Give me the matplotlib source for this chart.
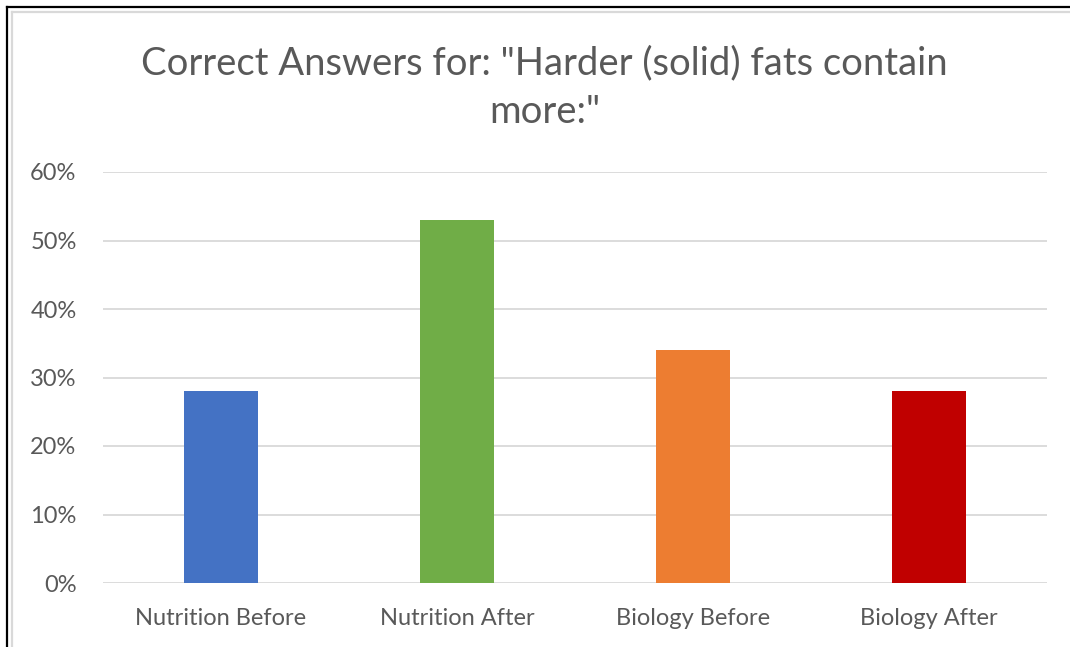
import matplotlib
matplotlib.use('Agg')
import matplotlib.pyplot as plt
from matplotlib.lines import Line2D
from matplotlib.ticker import FuncFormatter

plt.rcParams['font.family'] = ['Lato', 'DejaVu Sans']

# Data
categories = ['Nutrition Before', 'Nutrition After', 'Biology Before', 'Biology After']
values = [0.28, 0.53, 0.34, 0.28]
colors = ['#4472C4', '#70AD47', '#ED7D31', '#C00000']
title_lines = ['Correct Answers for: "Harder (solid) fats contain', 'more:"']

TEXT = '#595959'
GRID = '#D9D9D9'

fig = plt.figure(figsize=(10.7, 6.47), dpi=100)
fig.patch.set_facecolor('white')

# outer frame (black) and inner chart border (light gray)
fig.add_artist(Line2D([6.5 / 1070, 6.5 / 1070], [0, 1 - 6.5 / 647], color='black', lw=1.6,
                      transform=fig.transFigure))
fig.add_artist(Line2D([6.5 / 1070, 1], [1 - 6.5 / 647, 1 - 6.5 / 647], color='black', lw=1.6,
                      transform=fig.transFigure))
fig.add_artist(Line2D([11.5 / 1070, 11.5 / 1070], [0, 1 - 11.5 / 647], color=GRID, lw=1.6,
                      transform=fig.transFigure))
fig.add_artist(Line2D([11.5 / 1070, 1], [1 - 11.5 / 647, 1 - 11.5 / 647], color=GRID, lw=1.6,
                      transform=fig.transFigure))

ax = fig.add_axes([103 / 1070, 64 / 647, 944 / 1070, 411 / 647])
x = range(len(categories))
ax.bar(x, values, width=0.315, color=colors, zorder=3)

ax.set_xlim(-0.5, len(categories) - 0.5)
ax.set_ylim(0, 0.6)
ax.set_yticks([0, 0.1, 0.2, 0.3, 0.4, 0.5, 0.6])
ax.yaxis.set_major_formatter(FuncFormatter(lambda v, p: f'{v * 100:.0f}%'))
ax.set_xticks(list(x))
ax.set_xticklabels(categories)

ax.grid(axis='y', color=GRID, lw=1.3, zorder=0)
ax.set_axisbelow(True)
for s in ax.spines.values():
    s.set_visible(False)
ax.tick_params(axis='both', length=0, colors=TEXT, labelsize=17)
ax.tick_params(axis='y', pad=19)
ax.tick_params(axis='x', pad=18)

fig.text(0.509, 1 - 63 / 647, title_lines[0], ha='center', va='center',
         fontsize=27.5, color=TEXT)
fig.text(0.509, 1 - 112 / 647, title_lines[1], ha='center', va='center',
         fontsize=27.5, color=TEXT)

fig.savefig('out.png', dpi=100, facecolor='white')
